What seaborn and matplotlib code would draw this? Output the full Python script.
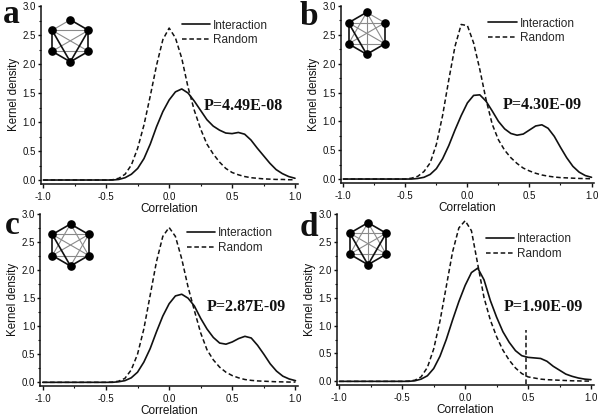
import numpy as np
import pandas as pd
import matplotlib
matplotlib.use("Agg")
import matplotlib.pyplot as plt
import seaborn as sns

# correlation grid (x values every 0.05)
corr = [-1.0, -0.95, -0.9, -0.85, -0.8, -0.75, -0.7, -0.65, -0.6, -0.55,
        -0.5, -0.45, -0.4, -0.35, -0.3, -0.25, -0.2, -0.15, -0.1, -0.05,
        0.0, 0.05, 0.1, 0.15, 0.2, 0.25, 0.3, 0.35, 0.4, 0.45,
        0.5, 0.55, 0.6, 0.65, 0.7, 0.75, 0.8, 0.85, 0.9, 0.95, 1.0]

zeros = [0.0] * 11  # -1.0 .. -0.5

# kernel density values
a_interaction = zeros + [0.0, 0.01, 0.04, 0.1, 0.2, 0.37, 0.62, 0.92, 1.18,
                         1.38, 1.52, 1.57, 1.5, 1.36, 1.2, 1.04, 0.93, 0.86, 0.81,
                         0.8, 0.82, 0.79, 0.69, 0.55, 0.42, 0.29, 0.18, 0.11, 0.06, 0.03]
a_random = zeros + [0.005, 0.03, 0.1, 0.26, 0.55, 0.95, 1.45, 1.98, 2.42,
                    2.62, 2.45, 2.1, 1.6, 1.2, 0.88, 0.62, 0.45, 0.31, 0.2,
                    0.13, 0.09, 0.06, 0.04, 0.03, 0.02, 0.015, 0.01, 0.01, 0.005, 0.005]

b_interaction = zeros + [0.0, 0.01, 0.03, 0.08, 0.18, 0.35, 0.58, 0.85, 1.1,
                         1.32, 1.45, 1.46, 1.35, 1.18, 1.0, 0.87, 0.79, 0.76, 0.78,
                         0.85, 0.92, 0.94, 0.88, 0.74, 0.55, 0.37, 0.22, 0.12, 0.06, 0.03]
b_random = zeros + [0.015, 0.047, 0.13, 0.28, 0.6, 1.1, 1.72, 2.3, 2.68,
                    2.66, 2.36, 1.9, 1.38, 0.95, 0.68, 0.5, 0.37, 0.27, 0.19,
                    0.14, 0.1, 0.07, 0.05, 0.035, 0.025, 0.02, 0.015, 0.01, 0.008, 0.005]

c_interaction = zeros + [0.0, 0.01, 0.03, 0.08, 0.18, 0.36, 0.6, 0.9, 1.18,
                         1.4, 1.54, 1.57, 1.5, 1.36, 1.14, 0.95, 0.8, 0.7, 0.68,
                         0.72, 0.78, 0.82, 0.79, 0.66, 0.5, 0.33, 0.2, 0.11, 0.06, 0.03]
c_random = zeros + [0.005, 0.02, 0.07, 0.22, 0.5, 0.95, 1.55, 2.15, 2.6,
                    2.76, 2.6, 2.2, 1.7, 1.28, 0.88, 0.58, 0.4, 0.27, 0.18,
                    0.12, 0.08, 0.05, 0.035, 0.025, 0.02, 0.015, 0.01, 0.008, 0.005, 0.005]

d_interaction = zeros + [0.0, 0.01, 0.04, 0.1, 0.23, 0.45, 0.75, 1.1, 1.43,
                         1.72, 1.95, 2.03, 1.82, 1.45, 1.15, 0.89, 0.7, 0.55, 0.46,
                         0.43, 0.42, 0.41, 0.36, 0.27, 0.2, 0.13, 0.09, 0.06, 0.04, 0.03]
d_random = zeros + [0.005, 0.02, 0.08, 0.25, 0.58, 1.08, 1.7, 2.32, 2.75,
                    2.88, 2.7, 2.1, 1.5, 1.1, 0.8, 0.56, 0.38, 0.24, 0.14,
                    0.08, 0.06, 0.04, 0.03, 0.025, 0.02, 0.015, 0.01, 0.008, 0.005, 0.005]

# dashed cut-off marker in panel d
d_cut_x = 0.48
d_cut_y = [-0.05, 0.92]

letters = ["a", "b", "c", "d"]
p_values = ["P=4.49E-08", "P=4.30E-09", "P=2.87E-09", "P=1.90E-09"]
p_pos = [(0.275, 1.28), (0.286, 1.28), (0.301, 1.34), (0.309, 1.33)]

# 6-node motif icons: 0 top, 1 upper right, 2 lower right, 3 bottom, 4 lower left, 5 upper left
icon_black = [
    [(0, 1), (5, 3), (1, 3), (4, 3), (2, 3), (5, 4), (1, 2)],
    [(5, 3), (4, 3), (2, 3), (5, 4), (1, 2), (0, 5)],
    [(0, 5), (0, 1), (5, 3), (5, 4), (1, 2), (4, 3), (2, 3)],
    [(0, 5), (0, 1), (5, 4), (1, 2), (4, 3), (2, 3), (5, 3), (1, 3)],
]
icon_gray = [
    [(0, 5), (5, 1), (4, 2), (5, 2), (1, 4)],
    [(0, 1), (0, 3), (5, 2), (1, 4), (5, 1), (4, 2), (0, 4), (0, 2)],
    [(0, 4), (0, 2), (5, 1), (4, 2), (5, 2), (1, 4), (1, 3)],
    [(0, 3), (0, 4), (0, 2), (5, 1), (4, 2), (5, 2), (1, 4)],
]

sns.set_theme(style="ticks")
plt.rcParams["font.family"] = ["Liberation Sans", "DejaVu Sans"]

W, H = 600, 418
fig = plt.figure(figsize=(6, 4.18), dpi=100)

# axes boxes in pixels: left, top, right, bottom
boxes = [(40.8, 6, 297.5, 183.5), (340.8, 6, 594, 182.5),
         (40.2, 214, 298, 385.7), (336.8, 214, 593.5, 384.7)]
legend_anchor = [(0.549, 0.887), (0.583, 0.898), (0.568, 0.884), (0.581, 0.849)]
letter_pos = [(3, 23), (300, 25), (5, 234), (300, 236)]
icon_center = [(70.3, 40.8), (366.7, 33.3), (70.5, 245), (368, 243.7)]

series = [(a_interaction, a_random), (b_interaction, b_random),
          (c_interaction, c_random), (d_interaction, d_random)]

hexagon = np.array([[0, 1], [0.866, 0.5], [0.866, -0.5], [0, -1], [-0.866, -0.5], [-0.866, 0.5]])

for i, (inter, rand) in enumerate(series):
    l, t, r, b = boxes[i]
    ax = fig.add_axes([l / W, 1 - b / H, (r - l) / W, (b - t) / H])
    df = pd.DataFrame({"Correlation": corr, "Interaction": inter, "Random": rand})
    sns.lineplot(data=df, x="Correlation", y="Interaction", ax=ax, color="#111111",
                 lw=1.2, label="Interaction")
    sns.lineplot(data=df, x="Correlation", y="Random", ax=ax, color="#111111",
                 lw=1.1, linestyle=(0, (3, 1.8)), label="Random")
    if i == 3:
        ax.plot([d_cut_x, d_cut_x], d_cut_y, color="#111111", lw=1.1, linestyle=(0, (3, 1.8)))

    ax.set_xlim(-1.02, 1.02)
    ax.set_ylim(-0.06, 3.0)
    ax.set_xticks([-1.0, -0.5, 0.0, 0.5, 1.0])
    ax.set_xticks([-0.75, -0.25, 0.25, 0.75], minor=True)
    ax.set_yticks([0.0, 0.5, 1.0, 1.5, 2.0, 2.5, 3.0])
    ax.set_yticks(np.arange(0.25, 3.0, 0.5), minor=True)
    ax.set_xticklabels(["-1.0", "-0.5", "0.0", "0.5", "1.0"])
    ax.set_yticklabels(["0.0", "0.5", "1.0", "1.5", "2.0", "2.5", "3.0"])
    ax.tick_params(axis="both", which="major", labelsize=7, width=1, color="#111111",
                   labelcolor="#111111")
    ax.tick_params(axis="x", which="major", length=3, pad=3)
    ax.tick_params(axis="y", which="major", length=2.5, pad=1)
    ax.tick_params(axis="both", which="minor", length=1.6, width=0.8, color="#111111")
    for s in ["top", "right"]:
        ax.spines[s].set_visible(False)
    for s in ["left", "bottom"]:
        ax.spines[s].set_linewidth(1.1)
        ax.spines[s].set_color("#111111")
    ax.set_xlabel("Correlation", fontsize=8.5, labelpad=0.5, color="#111111")
    ax.set_ylabel("Kernel density", fontsize=8.3, labelpad=2, color="#111111")

    axh = b - t
    lx, ly = legend_anchor[i]
    ax.legend(loc="upper left", bbox_to_anchor=(lx, ly + 6.5 / axh), frameon=False,
              fontsize=8.5, handlelength=2.4, handletextpad=0.25, labelspacing=0.2,
              borderpad=0, borderaxespad=0)

    px, py = p_pos[i]
    ax.text(px, py, p_values[i], fontsize=11.5, fontweight="bold", va="center",
            ha="left", family=["Liberation Serif", "DejaVu Serif"], color="#111111")

    fx, fy = letter_pos[i]
    fig.text(fx / W, 1 - fy / H, letters[i], fontsize=24, fontweight="bold",
             family=["Liberation Serif", "DejaVu Serif"], va="baseline", ha="left",
             color="#111111")

    # motif icon
    cx, cy = icon_center[i]
    iax = fig.add_axes([(cx - 25) / W, 1 - (cy + 25) / H, 50 / W, 50 / H])
    iax.set_xlim(-1.19, 1.19)
    iax.set_ylim(-1.19, 1.19)
    iax.axis("off")
    for (u, v) in icon_gray[i]:
        iax.plot(hexagon[[u, v], 0], hexagon[[u, v], 1], color="#8a8a8a", lw=0.8)
    for (u, v) in icon_black[i]:
        iax.plot(hexagon[[u, v], 0], hexagon[[u, v], 1], color="#111111", lw=1.2)
    iax.plot(hexagon[:, 0], hexagon[:, 1], "o", color="#000000", ms=5.2)

fig.savefig("out.png", dpi=100, facecolor="white")
